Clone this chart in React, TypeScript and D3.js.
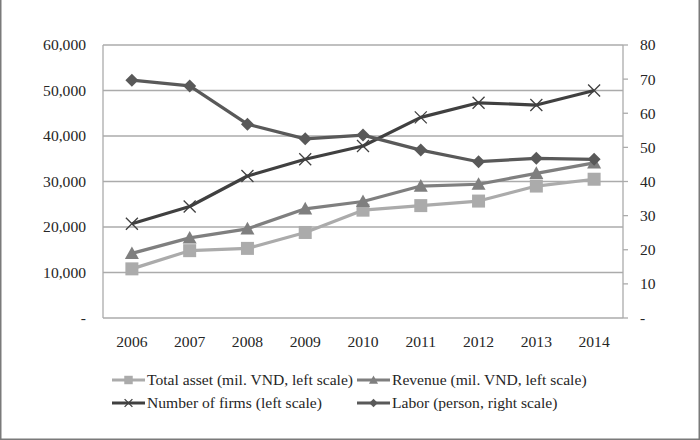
import React, { useEffect, useRef } from "react";
import * as d3 from "d3";

const years = ["2006", "2007", "2008", "2009", "2010", "2011", "2012", "2013", "2014"];
const totalAsset = [10800, 14800, 15300, 18800, 23700, 24700, 25700, 29000, 30500];
const revenue = [14200, 17600, 19600, 24000, 25600, 29000, 29400, 31800, 34100];
const firms = [20700, 24500, 31200, 34900, 37800, 44100, 47300, 46800, 50000];
const labor = [69.7, 68, 56.8, 52.5, 53.6, 49.2, 45.8, 46.8, 46.5];
const leftTicks = [0, 10000, 20000, 30000, 40000, 50000, 60000];
const rightTicks = [0, 10, 20, 30, 40, 50, 60, 70, 80];

const W = 700, H = 440;
const M = { left: 103, right: 623, top: 45, bottom: 318 };
const FONT = "'Liberation Serif', 'Times New Roman', serif";
const FS = 15.6;
const TXT = "#262626";

export default function App() {
  const ref = useRef<SVGSVGElement>(null);
  useEffect(() => {
    const svg = d3.select(ref.current);
    svg.selectAll("*").remove();
    const x = d3.scaleBand().domain(years).range([M.left, M.right]);
    const yL = d3.scaleLinear().domain([0, 60000]).range([M.bottom, M.top]);
    const yR = d3.scaleLinear().domain([0, 80]).range([M.bottom, M.top]);
    const cx = (d: string) => (x(d) as number) + x.bandwidth() / 2;

    svg.append("rect").attr("width", W).attr("height", H).attr("fill", "#fff");
    svg.append("path").attr("d", `M0.75,0 V${H - 0.75} H${W - 0.75} V0`)
      .attr("fill", "none").attr("stroke", "#7a7a7a").attr("stroke-width", 1.5);

    const grid = svg.append("g");
    leftTicks.forEach((t) => {
      grid.append("line").attr("x1", M.left).attr("x2", M.right)
        .attr("y1", yL(t)).attr("y2", yL(t))
        .attr("stroke", "#ababab").attr("stroke-width", 1.3);
    });
    svg.append("line").attr("x1", M.left).attr("x2", M.left).attr("y1", M.top).attr("y2", M.bottom)
      .attr("stroke", "#ababab").attr("stroke-width", 1.3);
    svg.append("line").attr("x1", M.right).attr("x2", M.right).attr("y1", M.top).attr("y2", M.bottom)
      .attr("stroke", "#ababab").attr("stroke-width", 1.3);
    rightTicks.forEach((t) => {
      svg.append("line").attr("x1", M.right).attr("x2", M.right + 5)
        .attr("y1", yR(t)).attr("y2", yR(t))
        .attr("stroke", "#ababab").attr("stroke-width", 1.3);
    });

    const fmt = d3.format(",");
    leftTicks.forEach((t) => {
      svg.append("text").attr("x", 86).attr("y", yL(t)).attr("dy", "0.35em")
        .attr("text-anchor", "end").attr("font-family", FONT).attr("font-size", FS)
        .attr("fill", TXT).text(t === 0 ? "-" : fmt(t));
    });
    rightTicks.forEach((t) => {
      svg.append("text").attr("x", 640).attr("y", yR(t)).attr("dy", "0.35em")
        .attr("text-anchor", "start").attr("font-family", FONT).attr("font-size", FS)
        .attr("fill", TXT).text(t === 0 ? "-" : String(t));
    });
    years.forEach((yr) => {
      svg.append("text").attr("x", cx(yr)).attr("y", 342).attr("dy", "0.35em")
        .attr("text-anchor", "middle").attr("font-family", FONT).attr("font-size", FS)
        .attr("fill", TXT).text(yr);
    });

    type Series = { name: string; values: number[]; scale: d3.ScaleLinear<number, number>; color: string; marker: string };
    const series: Series[] = [
      { name: "Total asset (mil. VND, left scale)", values: totalAsset, scale: yL, color: "#ababab", marker: "square" },
      { name: "Revenue (mil. VND, left scale)", values: revenue, scale: yL, color: "#7f7f7f", marker: "triangle" },
      { name: "Number of firms (left scale)", values: firms, scale: yL, color: "#404040", marker: "x" },
      { name: "Labor (person, right scale)", values: labor, scale: yR, color: "#595959", marker: "diamond" },
    ];

    const drawMarker = (g: any, px: number, py: number, s: Series, size = 1) => {
      if (s.marker === "square") {
        const h = 6.5 * size;
        g.append("rect").attr("x", px - h).attr("y", py - h).attr("width", 2 * h).attr("height", 2 * h).attr("fill", s.color);
      } else if (s.marker === "triangle") {
        const h = 7 * size;
        g.append("path").attr("d", `M${px},${py - h} L${px + h},${py + h * 0.8} L${px - h},${py + h * 0.8} Z`).attr("fill", s.color);
      } else if (s.marker === "diamond") {
        const h = 6.5 * size;
        g.append("path").attr("d", `M${px},${py - h} L${px + h},${py} L${px},${py + h} L${px - h},${py} Z`).attr("fill", s.color);
      } else {
        const h = 6 * size;
        g.append("path").attr("d", `M${px - h},${py - h} L${px + h},${py + h} M${px - h},${py + h} L${px + h},${py - h}`)
          .attr("stroke", s.color).attr("stroke-width", 1.3).attr("fill", "none");
      }
    };

    series.forEach((s) => {
      const g = svg.append("g");
      const line = d3.line<number>().x((_, i) => cx(years[i])).y((v) => s.scale(v));
      g.append("path").attr("d", line(s.values) as string).attr("fill", "none")
        .attr("stroke", s.color).attr("stroke-width", 3.2).attr("stroke-linejoin", "round");
      s.values.forEach((v, i) => drawMarker(g, cx(years[i]), s.scale(v), s));
    });

    const legPos = [
      [112, 380], [357, 380], [112, 403], [357, 403],
    ];
    series.forEach((s, i) => {
      const [lx, ly] = legPos[i];
      const g = svg.append("g");
      g.append("line").attr("x1", lx).attr("x2", lx + 33).attr("y1", ly).attr("y2", ly)
        .attr("stroke", s.color).attr("stroke-width", 3.2);
      drawMarker(g, lx + 16.5, ly, s, 0.65);
      g.append("text").attr("x", lx + 35).attr("y", ly).attr("dy", "0.35em")
        .attr("font-family", FONT).attr("font-size", FS).attr("fill", TXT).text(s.name);
    });
  }, []);
  return (
    <div style={{ position: "absolute", left: 0, top: 0 }}>
      <svg ref={ref} width={W} height={H} style={{ display: "block" }} />
    </div>
  );
}
